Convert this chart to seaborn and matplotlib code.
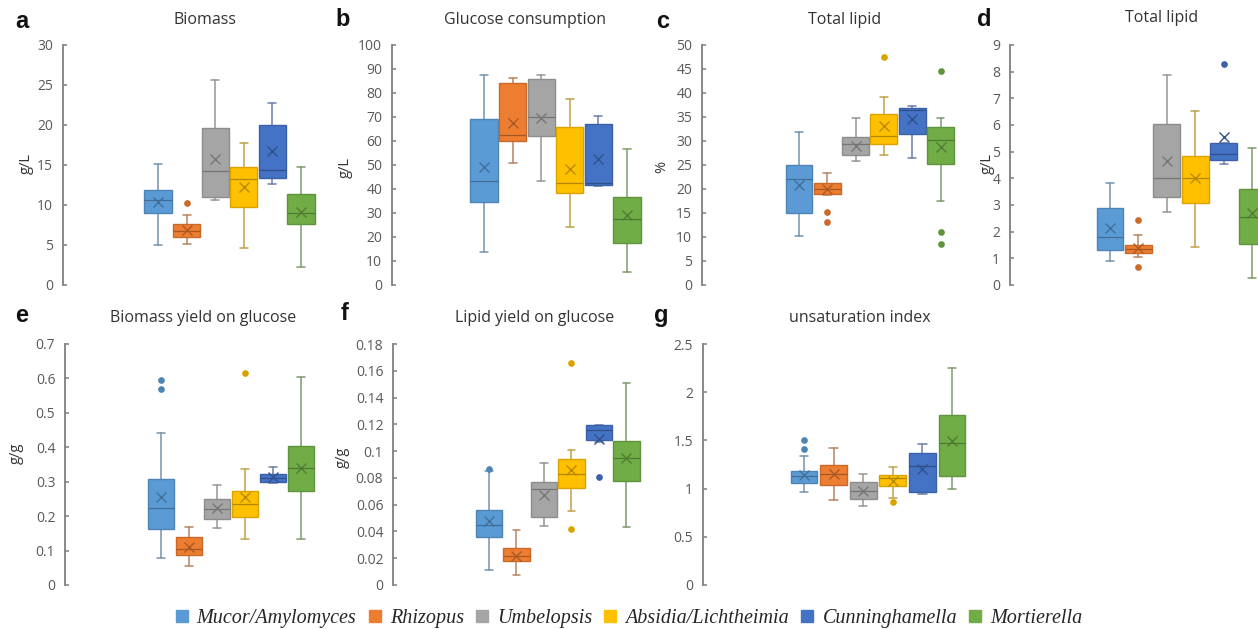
import numpy as np
import matplotlib
matplotlib.use("Agg")
import matplotlib.pyplot as plt
import seaborn as sns
from matplotlib.colors import to_rgb
from matplotlib.lines import Line2D
from matplotlib.ticker import FuncFormatter, MultipleLocator

# ---------------- data ----------------
genera = ["Mucor/Amylomyces", "Rhizopus", "Umbelopsis",
          "Absidia/Lichtheimia", "Cunninghamella", "Mortierella"]
colors = ["#5B9BD5", "#ED7D31", "#A5A5A5", "#FFC000", "#4472C4", "#70AD47"]

# a  Biomass (g/L)
biomass_low = [5.0, 5.1, 10.6, 4.6, 12.6, 2.2]
biomass_q1 = [9.0, 6.0, 11.0, 9.8, 13.4, 7.6]
biomass_med = [10.6, 6.8, 14.3, 13.2, 14.4, 9.0]
biomass_q3 = [11.9, 7.6, 19.6, 14.8, 20.0, 11.4]
biomass_high = [15.1, 8.8, 25.6, 17.8, 22.7, 14.8]
biomass_mean = [10.4, 6.9, 15.8, 12.2, 16.7, 9.1]
biomass_out = [[], [10.3], [], [], [], []]

# b  Glucose consumption (g/L)
glucose_low = [13.6, 50.8, 43.5, 24.0, 41.2, 5.6]
glucose_q1 = [34.5, 60.0, 62.0, 38.2, 41.6, 17.7]
glucose_med = [43.5, 62.5, 70.0, 42.3, 42.5, 27.5]
glucose_q3 = [69.0, 84.0, 86.0, 65.8, 67.0, 36.5]
glucose_high = [87.5, 86.3, 87.5, 77.3, 70.3, 56.7]
glucose_mean = [49.3, 67.5, 69.5, 48.5, 52.5, 29.0]
glucose_out = [[], [], [], [], [], []]

# c  Total lipid (%)
lipidpct_low = [10.3, 18.8, 25.8, 27.0, 26.4, 17.6]
lipidpct_q1 = [14.9, 19.0, 27.0, 29.4, 31.4, 25.3]
lipidpct_med = [22.0, 20.0, 29.3, 31.0, 36.4, 30.3]
lipidpct_q3 = [25.1, 21.2, 30.9, 35.6, 36.8, 33.0]
lipidpct_high = [31.8, 23.4, 34.7, 39.1, 37.2, 34.7]
lipidpct_mean = [20.8, 20.1, 29.0, 33.1, 34.5, 28.7]
lipidpct_out = [[], [15.3, 13.1], [], [47.4], [], [44.6, 11.0, 8.5]]

# d  Total lipid (g/L)
lipidgl_low = [0.9, 1.05, 2.75, 1.42, 4.52, 0.25]
lipidgl_q1 = [1.33, 1.2, 3.31, 3.06, 4.67, 1.55]
lipidgl_med = [1.8, 1.35, 4.0, 4.0, 4.9, 2.55]
lipidgl_q3 = [2.87, 1.49, 6.05, 4.83, 5.33, 3.6]
lipidgl_high = [3.82, 1.86, 7.89, 6.53, 5.33, 5.12]
lipidgl_mean = [2.13, 1.38, 4.65, 4.0, 5.54, 2.7]
lipidgl_out = [[], [2.42, 0.68], [], [], [8.3], []]

# e  Biomass yield on glucose (g/g)
byield_low = [0.078, 0.056, 0.167, 0.135, 0.297, 0.134]
byield_q1 = [0.164, 0.086, 0.193, 0.198, 0.300, 0.272]
byield_med = [0.224, 0.105, 0.222, 0.235, 0.310, 0.340]
byield_q3 = [0.307, 0.138, 0.251, 0.273, 0.322, 0.405]
byield_high = [0.442, 0.169, 0.290, 0.338, 0.343, 0.603]
byield_mean = [0.256, 0.110, 0.225, 0.256, 0.315, 0.340]
byield_out = [[0.594, 0.570], [], [], [0.615], [], []]

# f  Lipid yield on glucose (g/g)
lyield_low = [0.011, 0.0075, 0.044, 0.055, 0.107, 0.043]
lyield_q1 = [0.036, 0.018, 0.051, 0.0725, 0.108, 0.0775]
lyield_med = [0.045, 0.022, 0.0715, 0.083, 0.116, 0.095]
lyield_q3 = [0.0558, 0.0275, 0.077, 0.094, 0.1195, 0.1075]
lyield_high = [0.085, 0.041, 0.091, 0.101, 0.1195, 0.151]
lyield_mean = [0.0475, 0.022, 0.067, 0.086, 0.109, 0.095]
lyield_out = [[0.0865], [], [], [0.166, 0.042], [0.081], []]

# g  unsaturation index
unsat_low = [0.962, 0.886, 0.817, 0.903, 0.944, 1.0]
unsat_q1 = [1.058, 1.04, 0.896, 1.03, 0.965, 1.133]
unsat_med = [1.127, 1.154, 0.98, 1.11, 1.23, 1.47]
unsat_q3 = [1.185, 1.24, 1.07, 1.144, 1.374, 1.768]
unsat_high = [1.34, 1.425, 1.15, 1.229, 1.46, 2.253]
unsat_mean = [1.14, 1.154, 0.98, 1.08, 1.2, 1.494]
unsat_out = [[1.504, 1.408], [], [], [0.858], [], []]

# ---------------- style ----------------
sns.set_theme(style="white")
plt.rcParams['font.family'] = ['Open Sans', 'DejaVu Sans']
palette = sns.color_palette(colors)

W, H = 1258, 629
fig = plt.figure(figsize=(W / 100, H / 100), dpi=100)


def shade(c, f):
    r, g, b = to_rgb(c)
    return (r * f, g * f, b * f)


def mix(c, other, t):
    a = np.array(to_rgb(c))
    b = np.array(to_rgb(other))
    return tuple(a * (1 - t) + b * t)


def fmt(v, pos):
    return f"{round(v, 6):g}"


def panel(letter, title, ylabel, spine, right, top, bottom, c0, sp, width,
          ymax, ystep, low, q1, med, q3, high, mean, out,
          letter_xy, title_xy, ylabel_xy):
    ax = fig.add_axes([spine / W, 1 - bottom / H, (right - spine) / W, (bottom - top) / H])
    stats = []
    for i in range(len(genera)):
        stats.append(dict(whislo=low[i], q1=q1[i], med=med[i], q3=q3[i],
                          whishi=high[i], mean=mean[i], fliers=out[i]))
    art = ax.bxp(stats, positions=list(range(len(genera))), widths=width,
                 capwidths=0.28, patch_artist=True, showmeans=True,
                 meanline=False, showfliers=True)
    for i, c in enumerate(palette):
        dark = shade(c, 0.78)
        art['boxes'][i].set(facecolor=c, edgecolor=shade(c, 0.85), linewidth=1.0, zorder=3)
        art['medians'][i].set(color=shade(c, 0.7), linewidth=0.9, zorder=4)
        wc = mix(c, "#8a8a8a", 0.55)
        for ln in art['whiskers'][2 * i:2 * i + 2] + art['caps'][2 * i:2 * i + 2]:
            ln.set(color=wc, linewidth=1.1, zorder=2)
        art['means'][i].set(marker='x', markeredgecolor=shade(c, 0.72),
                            markerfacecolor='none', markersize=7, markeredgewidth=1.0, zorder=5)
        art['fliers'][i].set(marker='o', markerfacecolor=shade(c, 0.85),
                             markeredgecolor=shade(c, 0.85), markersize=3.8, zorder=5)
    ax.set_xlim((spine - c0) / sp, (right - c0) / sp)
    ax.set_ylim(0, ymax)
    ax.yaxis.set_major_locator(MultipleLocator(ystep))
    ax.yaxis.set_major_formatter(FuncFormatter(fmt))
    ax.set_xticks([])
    for s in ['top', 'right', 'bottom']:
        ax.spines[s].set_visible(False)
    ax.spines['left'].set_color('#7f7f7f')
    ax.spines['left'].set_linewidth(1.3)
    ax.tick_params(axis='y', direction='in', length=3, width=1.1, color='#7f7f7f',
                   labelsize=10, labelcolor='#595959', pad=7, left=True)
    ax.set_facecolor('none')
    ax.grid(False)
    fig.text(letter_xy[0] / W, 1 - letter_xy[1] / H, letter, fontsize=17,
             fontweight='bold', family='Liberation Sans', ha='center', va='center', color='#111111')
    fig.text(title_xy[0] / W, 1 - title_xy[1] / H, title, fontsize=11.5,
             ha='center', va='center', color='#333333')
    if ylabel:
        fig.text(ylabel_xy[0] / W, 1 - ylabel_xy[1] / H, ylabel, fontsize=10.5,
                 rotation=90, ha='center', va='center', color='#333333')
    return ax


TOP1, BOT1 = 45, 285
TOP2, BOT2 = 344, 585

panel("a", "Biomass", "g/L", 63, 330, TOP1, BOT1, 158, 28.6, 0.95, 30, 5,
      biomass_low, biomass_q1, biomass_med, biomass_q3, biomass_high, biomass_mean, biomass_out,
      (22, 21), (205, 20), (26, 163))
panel("b", "Glucose consumption", "g/L", 392, 650, TOP1, BOT1, 484, 28.6, 0.95, 100, 10,
      glucose_low, glucose_q1, glucose_med, glucose_q3, glucose_high, glucose_mean, glucose_out,
      (343, 20), (525, 20), (345, 167))
panel("c", "Total lipid", "%", 702, 965, TOP1, BOT1, 799, 28.3, 0.95, 50, 5,
      lipidpct_low, lipidpct_q1, lipidpct_med, lipidpct_q3, lipidpct_high, lipidpct_mean, lipidpct_out,
      (663, 22), (845, 20), (662, 167))
panel("d", "Total lipid", "g/L", 1010, 1300, TOP1, BOT1, 1110, 28.4, 0.95, 9, 1,
      lipidgl_low, lipidgl_q1, lipidgl_med, lipidgl_q3, lipidgl_high, lipidgl_mean, lipidgl_out,
      (984, 20), (1162, 18), (987, 163))
panel("e", "Biomass yield on glucose", "g/g", 65, 330, TOP2, BOT2, 161, 28.0, 0.95, 0.7, 0.1,
      byield_low, byield_q1, byield_med, byield_q3, byield_high, byield_mean, byield_out,
      (22, 316), (203, 318), (16, 453))
panel("f", "Lipid yield on glucose", "g/g", 393, 655, TOP2, BOT2, 489, 27.5, 0.95, 0.18, 0.02,
      lyield_low, lyield_q1, lyield_med, lyield_q3, lyield_high, lyield_mean, lyield_out,
      (345, 313), (535, 318), (342, 457))
panel("g", "unsaturation index", None, 703, 990, TOP2, BOT2, 804, 29.6, 0.91, 2.5, 0.5,
      unsat_low, unsat_q1, unsat_med, unsat_q3, unsat_high, unsat_mean, unsat_out,
      (661, 316), (860, 318), None)

handles = [Line2D([], [], linestyle='none', marker='s', markersize=9,
                  markerfacecolor=c, markeredgecolor=c) for c in palette]
fig.legend(handles, genera, loc='center', bbox_to_anchor=(628 / W, 1 - 618 / H),
           ncol=6, frameon=False, handlelength=0.8, handletextpad=0.35,
           columnspacing=0.5,
           prop=dict(family='Liberation Serif', style='italic', size=14.5))

fig.savefig("out.png", dpi=100)
